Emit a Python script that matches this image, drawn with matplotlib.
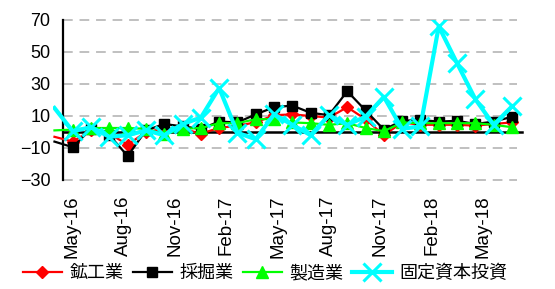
# Year-on-year changes, May-16 to May-18 (the Apr-16 point sits just left of the axis and is cut off)

import numpy as np
import matplotlib
matplotlib.use('Agg')
import matplotlib.pyplot as plt

plt.rcParams['font.family'] = ['Liberation Sans', 'DejaVu Sans']

months = ['Apr-16', 'May-16', 'Jun-16', 'Jul-16', 'Aug-16', 'Sep-16', 'Oct-16',
          'Nov-16', 'Dec-16', 'Jan-17', 'Feb-17', 'Mar-17', 'Apr-17', 'May-17',
          'Jun-17', 'Jul-17', 'Aug-17', 'Sep-17', 'Oct-17', 'Nov-17', 'Dec-17',
          'Jan-18', 'Feb-18', 'Mar-18', 'Apr-18', 'May-18']
tick_labels = ['May-16', 'Aug-16', 'Nov-16', 'Feb-17', 'May-17',
               'Aug-17', 'Nov-17', 'Feb-18', 'May-18']

mining_industry = [-3, -6, 1, -1, -8, 0, 2, 2, -1, 2.5, 4, 6, 10.5, 11, 10, 9,
                   15.5, 8, -2, 6, 4.5, 4.5, 4.5, 4, 5, 6]
extraction = [-6, -9.5, 2, -2, -15, 1, 5, 3.5, 2, 6.5, 6, 11, 15.5, 16.5, 12,
              10.5, 25.5, 13.5, 1.5, 7, 7.5, 6.5, 7, 5, 6.5, 9.5]
manufacturing = [1, 1.5, 2.5, 2.5, 2.5, 2, -1.5, 2, 2.5, 5.5, 5.5, 8, 8, 6,
                 5.5, 4.5, 5.5, 2.5, 0.5, 6, 5.5, 5.5, 5.5, 5.5, 4.5, 3]
fixed_capital = [15, 0.5, 3, -3, -2, 1, -2, 5, 9, 27.5, -0.5, -4.5, 11, 4.5,
                 -2, 10.5, 4.5, 9.5, 22, 2, 3.5, 66, 43, 20.5, 4.5, 16]

x = np.arange(len(months)) - 1

fig = plt.figure(figsize=(5.55, 2.89), dpi=100)
ax = fig.add_axes([53 / 555, 1 - 180 / 289, 469 / 555, 160 / 289])

# dashed grid and the zero line
for y in [-30, -10, 10, 30, 50, 70]:
    ax.plot([-0.53, 24.28], [y, y], color='#c0c0c0', lw=1.4,
            dashes=(5, 3.5), zorder=1, clip_on=False)
ax.plot([-0.53, 24.55], [0, 0], color='black', lw=1.8, zorder=2, clip_on=False)

mk = slice(1, None)
ax.plot(x, mining_industry, color='red', lw=1.6, marker='D', ms=6.5,
        markevery=mk, label='鉱工業', zorder=3)
ax.plot(x, extraction, color='black', lw=1.6, marker='s', ms=6.5,
        markevery=mk, label='採掘業', zorder=3)
ax.plot(x, manufacturing, color='#00ff00', lw=1.6, marker='^', ms=8,
        markevery=mk, label='製造業', zorder=3)
ax.plot(x, fixed_capital, color='cyan', lw=3, marker='x', ms=13, mew=2.2,
        markevery=mk, label='固定資本投資', zorder=4)

ax.set_xlim(-1.08, 24.55)
ax.set_ylim(-30, 70)
ax.set_yticks([-30, -10, 10, 30, 50, 70])
# labels sit where the original chart puts them
ax.set_xticks(np.arange(len(tick_labels)) * 2.81 - 0.05)
ax.set_xticklabels(tick_labels, rotation=90)
ax.tick_params(axis='both', length=0)
ax.tick_params(axis='y', pad=9, labelsize=13)
ax.tick_params(axis='x', pad=11, labelsize=13.5)

for s in ['top', 'right', 'bottom']:
    ax.spines[s].set_visible(False)
ax.spines['left'].set_position(('data', -0.53))
ax.spines['left'].set_linewidth(1.6)
ax.patch.set_visible(False)

fig.legend(loc='center', bbox_to_anchor=(265 / 555, 1 - 273 / 289), ncol=4,
           frameon=False, handlelength=2.2, handletextpad=0.4,
           columnspacing=0.5, borderpad=0,
           prop={'family': ['Noto Sans CJK JP', 'DejaVu Sans'], 'size': 13})

fig.savefig('out.png', dpi=100)
